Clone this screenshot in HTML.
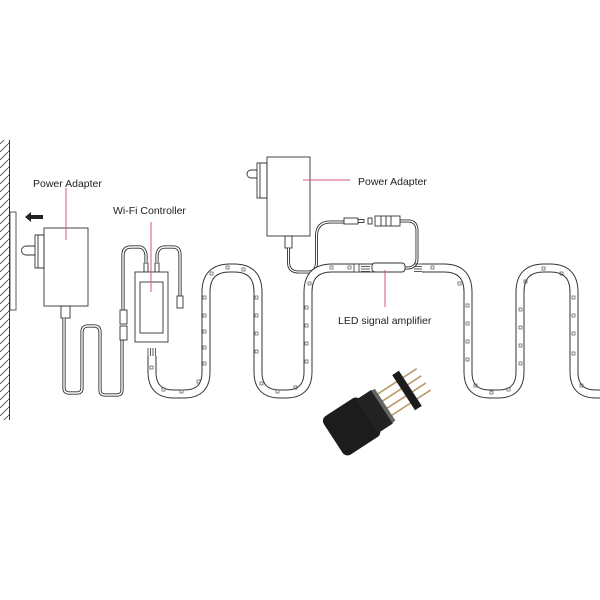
<!DOCTYPE html>
<html><head><meta charset="utf-8"><style>
html,body{margin:0;padding:0;background:#fff;}
svg{display:block}
text{font-family:"Liberation Sans",sans-serif;font-size:10.5px;fill:#222}
</style></head><body>
<svg width="600" height="600" viewBox="0 0 600 600" xmlns="http://www.w3.org/2000/svg">
<defs>
<pattern id="h" width="8" height="8" patternUnits="userSpaceOnUse"><path d="M0 8 L8 0" stroke="#444" stroke-width="0.8"/></pattern>
</defs>
<rect x="0" y="140" width="9" height="280" fill="url(#h)"/>
<line x1="9.5" y1="140" x2="9.5" y2="420" stroke="#333" stroke-width="1"/>
<rect x="10" y="212" width="6" height="98" fill="#fff" stroke="#333" stroke-width="0.8"/>
<path d="M25 217 L31 212 L31 215 L43 215 L43 219 L31 219 L31 222 Z" fill="#222"/>

<g fill="none" stroke="#333" stroke-width="0.9">
<rect x="44" y="228" width="44" height="78" fill="#fff"/>
<rect x="35" y="235" width="9" height="33"/>
<rect x="38" y="235" width="6" height="33"/>
<path d="M35 246 H26 a4.5 4.5 0 0 0 0 9 H35"/>
<rect x="61" y="306" width="9" height="12"/>
<path d="M64 318 V388 q0 5 5 5 h8 q5 0 5-5 V332 q0-6 6-6 h6 q6 0 6 6 V390 q0 5 5 5 h12 q5 0 5-5 V340" stroke-width="3.2"/>
<path d="M64 318 V388 q0 5 5 5 h8 q5 0 5-5 V332 q0-6 6-6 h6 q6 0 6 6 V390 q0 5 5 5 h12 q5 0 5-5 V340" stroke="#fff" stroke-width="1.4"/>
<path d="M123 312 V255 q0-8 8-8 h8 q6 0 7 8 V262" stroke-width="3.2"/>
<path d="M123 312 V255 q0-8 8-8 h8 q6 0 7 8 V262" stroke="#fff" stroke-width="1.4"/>
<path d="M157 262 V255 q1-8 8-8 h8 q7 0 7 8 V296" stroke-width="3.2"/>
<path d="M157 262 V255 q1-8 8-8 h8 q7 0 7 8 V296" stroke="#fff" stroke-width="1.4"/>
<rect x="120" y="310" width="7" height="14" fill="#fff"/>
<rect x="120" y="326" width="7" height="14" fill="#fff"/>
<rect x="177" y="296" width="6" height="12" fill="#fff"/>
<rect x="144" y="263" width="4" height="9" fill="#fff"/>
<rect x="155" y="263" width="4" height="9" fill="#fff"/>
<rect x="135" y="272" width="33" height="70" fill="#fff"/>
<rect x="140" y="282" width="23" height="51"/>
<rect x="267" y="157" width="43" height="79" fill="#fff"/>
<rect x="257" y="163" width="10" height="35"/>
<rect x="260" y="163" width="7" height="35"/>
<path d="M257 170 H251 a4 4 0 0 0 0 8 H257"/>
<rect x="285" y="236" width="7" height="12"/>
<path d="M288.5 248 V262 q0 10 10 10 h10 q8 0 8-10 V236 q0-14 14-14 h14" stroke-width="3"/>
<path d="M288.5 248 V262 q0 10 10 10 h10 q8 0 8-10 V236 q0-14 14-14 h14" stroke="#fff" stroke-width="1.2"/>
<path d="M400 221 h8 q9 0 9 10 V258 q0 10-10 10 h-2" stroke-width="3"/>
<path d="M400 221 h8 q9 0 9 10 V258 q0 10-10 10 h-2" stroke="#fff" stroke-width="1.2"/>
<rect x="344" y="218" width="14" height="6" fill="#fff"/>
<rect x="358" y="219.5" width="6" height="3" fill="#fff"/>
<rect x="368" y="218" width="4" height="6" fill="#fff"/>
<rect x="375" y="216" width="25" height="10" fill="#fff"/>
<line x1="381" y1="216" x2="381" y2="226"/><line x1="386" y1="216" x2="386" y2="226"/><line x1="391" y1="216" x2="391" y2="226"/>
</g>

<g fill="none">
<path d="M152 356 V372 q0 22 22 22 h10 q22 0 22-22 V292 q0-24 24-24 h4 q24 0 24 24 V372 q0 22 22 22 h6 q22 0 22-22 V292 q0-24 24-24 h52" stroke="#333" stroke-width="9"/>
<path d="M152 356 V372 q0 22 22 22 h10 q22 0 22-22 V292 q0-24 24-24 h4 q24 0 24 24 V372 q0 22 22 22 h6 q22 0 22-22 V292 q0-24 24-24 h52" stroke="#fff" stroke-width="7"/>
<path d="M422 268 h22 q24 0 24 24 V372 q0 22 22 22 h8 q22 0 22-22 V292 q0-24 24-24 h6 q24 0 24 24 V372 q0 22 22 22 h20" stroke="#333" stroke-width="9"/>
<path d="M422 268 h22 q24 0 24 24 V372 q0 22 22 22 h8 q22 0 22-22 V292 q0-24 24-24 h6 q24 0 24 24 V372 q0 22 22 22 h20" stroke="#fff" stroke-width="7"/>
</g>
<g fill="none" stroke="#555" stroke-width="0.7">
<rect x="150" y="366" width="3" height="3"/><rect x="162" y="388" width="3" height="3"/><rect x="180" y="390" width="3" height="3"/><rect x="197" y="380" width="3" height="3"/>
<rect x="203" y="362" width="3" height="3"/><rect x="203" y="346" width="3" height="3"/><rect x="203" y="330" width="3" height="3"/><rect x="203" y="314" width="3" height="3"/><rect x="203" y="296" width="3" height="3"/><rect x="210" y="272" width="3" height="3"/><rect x="226" y="266" width="3" height="3"/><rect x="242" y="268" width="3" height="3"/>
<rect x="255" y="296" width="3" height="3"/><rect x="255" y="314" width="3" height="3"/><rect x="255" y="332" width="3" height="3"/><rect x="255" y="350" width="3" height="3"/><rect x="260" y="382" width="3" height="3"/><rect x="276" y="390" width="3" height="3"/><rect x="294" y="386" width="3" height="3"/>
<rect x="305" y="360" width="3" height="3"/><rect x="305" y="342" width="3" height="3"/><rect x="305" y="324" width="3" height="3"/><rect x="305" y="306" width="3" height="3"/><rect x="308" y="282" width="3" height="3"/><rect x="330" y="266" width="3" height="3"/><rect x="348" y="266" width="3" height="3"/>
<rect x="431" y="266" width="3" height="3"/><rect x="458" y="282" width="3" height="3"/><rect x="466" y="304" width="3" height="3"/><rect x="466" y="322" width="3" height="3"/><rect x="466" y="340" width="3" height="3"/><rect x="466" y="358" width="3" height="3"/><rect x="474" y="384" width="3" height="3"/><rect x="490" y="391" width="3" height="3"/><rect x="507" y="388" width="3" height="3"/>
<rect x="519" y="362" width="3" height="3"/><rect x="519" y="344" width="3" height="3"/><rect x="519" y="326" width="3" height="3"/><rect x="519" y="308" width="3" height="3"/><rect x="524" y="280" width="3" height="3"/><rect x="542" y="267" width="3" height="3"/><rect x="560" y="272" width="3" height="3"/>
<rect x="572" y="296" width="3" height="3"/><rect x="572" y="314" width="3" height="3"/><rect x="572" y="332" width="3" height="3"/><rect x="572" y="352" width="3" height="3"/><rect x="580" y="384" width="3" height="3"/>
</g>
<g stroke="#333" stroke-width="0.8">
<line x1="148" y1="348" x2="148" y2="356"/><line x1="150.5" y1="348" x2="150.5" y2="356"/><line x1="153" y1="348" x2="153" y2="356"/><line x1="155.5" y1="348" x2="155.5" y2="356"/>
<line x1="361" y1="264" x2="370" y2="264"/><line x1="361" y1="266.5" x2="370" y2="266.5"/><line x1="361" y1="269" x2="370" y2="269"/><line x1="361" y1="271.5" x2="370" y2="271.5"/>
<line x1="414" y1="264" x2="422" y2="264"/><line x1="414" y1="266.5" x2="422" y2="266.5"/><line x1="414" y1="269" x2="422" y2="269"/><line x1="414" y1="271.5" x2="422" y2="271.5"/>
</g>
<rect x="354" y="264" width="5" height="8" fill="#fff" stroke="#333" stroke-width="0.8"/>
<rect x="372" y="263" width="33" height="9" rx="3" fill="#fff" stroke="#333" stroke-width="0.9"/>

<g stroke="#d0568a" stroke-width="1">
<line x1="66" y1="188" x2="66" y2="240"/>
<line x1="151" y1="222" x2="151" y2="292"/>
<line x1="303" y1="180" x2="350" y2="180"/>
<line x1="385" y1="270" x2="385" y2="307"/>
</g>

<!-- black connector -->
<g transform="translate(360,421) rotate(-33)">
<g stroke="#b89a6a" stroke-width="1.6">
<line x1="28" y1="-13" x2="76" y2="-13"/><line x1="28" y1="-4.5" x2="76" y2="-4.5"/><line x1="28" y1="4" x2="76" y2="4"/><line x1="28" y1="12.5" x2="76" y2="12.5"/>
</g>
<rect x="-32" y="-23" width="44" height="46" rx="6" fill="#1c1c1c"/>
<rect x="8" y="-20" width="20" height="40" rx="3" fill="#222"/>
<rect x="26" y="-19" width="4" height="38" fill="#666"/>
<rect x="52" y="-21" width="8" height="42" fill="#1c1c1c"/>
</g>

<text x="33" y="187">Power Adapter</text>
<text x="113" y="214">Wi-Fi Controller</text>
<text x="358" y="185">Power Adapter</text>
<text x="338" y="324">LED signal amplifier</text>
</svg>
</body></html>
